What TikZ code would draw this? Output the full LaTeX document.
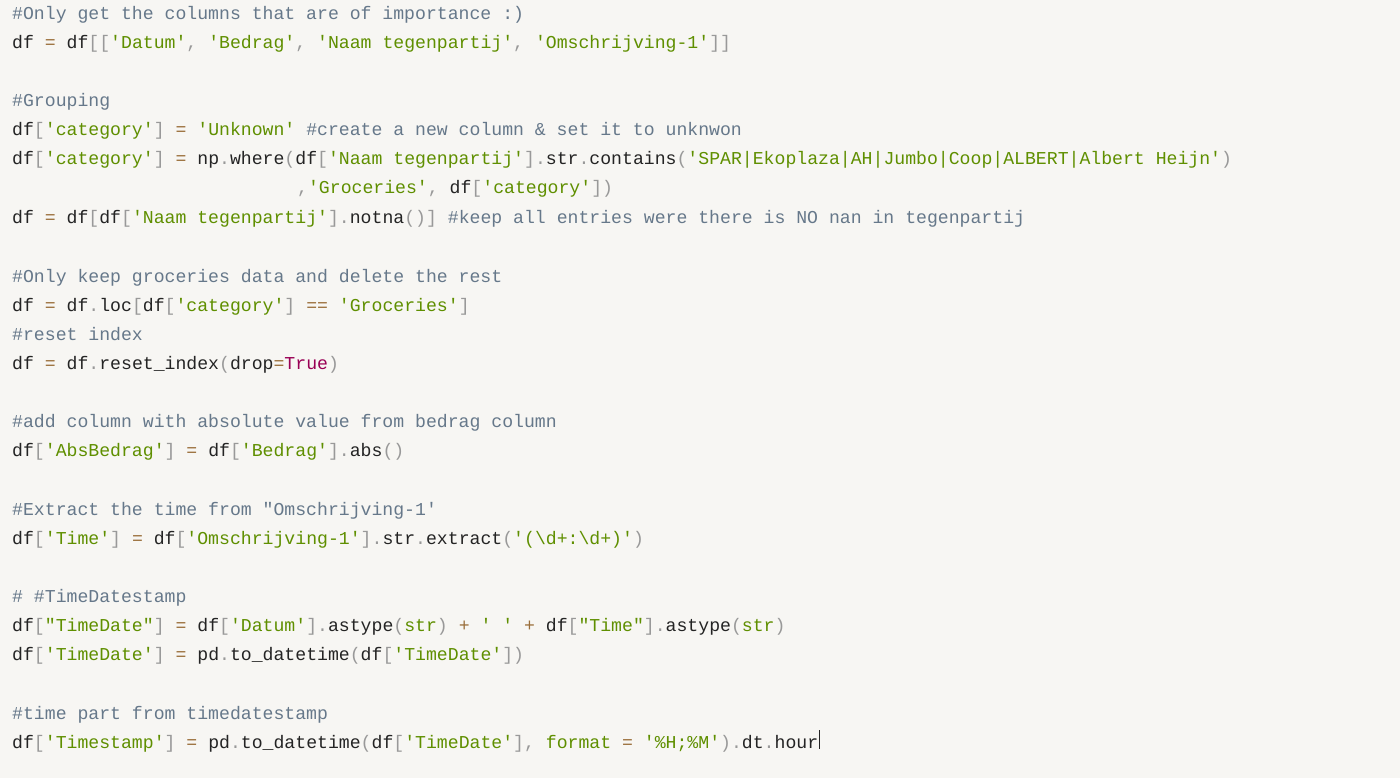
\documentclass[tikz,border=0pt]{standalone}
\usepackage{fontspec}
\setmonofont{Liberation Mono}
\definecolor{bgc}{HTML}{F7F6F3}
\definecolor{txc}{HTML}{242424}
\definecolor{puc}{HTML}{999999}
\definecolor{stc}{HTML}{5F8F00}
\definecolor{opc}{HTML}{9A6E3A}
\definecolor{cmc}{HTML}{66788A}
\definecolor{kwc}{HTML}{990055}
\newcommand\Xc[1]{\textcolor{cmc}{#1}}
\newcommand\Xs[1]{\textcolor{stc}{#1}}
\newcommand\Xo[1]{\textcolor{opc}{#1}}
\newcommand\Xp[1]{\textcolor{puc}{#1}}
\newcommand\Xk[1]{\textcolor{kwc}{#1}}
\tikzset{codeline/.style={anchor=base west,inner sep=0pt,text=txc,font=\ttfamily\fontsize{18.15}{29}\selectfont}}
\begin{document}
\begin{tikzpicture}[x=1pt,y=-1pt]
\fill[bgc] (0,0) rectangle (1400,778);
\useasboundingbox (0,0) rectangle (1400,778);
\node[codeline] (l1) at (12,20) {\Xc{\#Only get the columns that are of importance :)}};
\node[codeline] (l2) at (12,49) {df \Xo{=} df\Xp{[[}\Xs{'Datum'}\Xp{,} \Xs{'Bedrag'}\Xp{,} \Xs{'Naam tegenpartij'}\Xp{,} \Xs{'Omschrijving-1'}\Xp{]]}};
\node[codeline] (l4) at (12,107) {\Xc{\#Grouping}};
\node[codeline] (l5) at (12,136) {df\Xp{[}\Xs{'category'}\Xp{]} \Xo{=} \Xs{'Unknown'} \Xc{\#create a new column \& set it to unknwon}};
\node[codeline] (l6) at (12,165) {df\Xp{[}\Xs{'category'}\Xp{]} \Xo{=} np\Xp{.}where\Xp{(}df\Xp{[}\Xs{'Naam tegenpartij'}\Xp{].}str\Xp{.}contains\Xp{(}\Xs{'SPAR|Ekoplaza|AH|Jumbo|Coop|ALBERT|Albert Heijn'}\Xp{)}};
\node[codeline] (l7) at (297,194) {\Xp{,}\Xs{'Groceries'}\Xp{,} df\Xp{[}\Xs{'category'}\Xp{])}};
\node[codeline] (l8) at (12,223) {df \Xo{=} df\Xp{[}df\Xp{[}\Xs{'Naam tegenpartij'}\Xp{].}notna\Xp{()]} \Xc{\#keep all entries were there is NO nan in tegenpartij}};
\node[codeline] (l10) at (12,282) {\Xc{\#Only keep groceries data and delete the rest}};
\node[codeline] (l11) at (12,311) {df \Xo{=} df\Xp{.}loc\Xp{[}df\Xp{[}\Xs{'category'}\Xp{]} \Xo{==} \Xs{'Groceries'}\Xp{]}};
\node[codeline] (l12) at (12,340) {\Xc{\#reset index}};
\node[codeline] (l13) at (12,369) {df \Xo{=} df\Xp{.}reset\_index\Xp{(}drop\Xo{=}\Xk{True}\Xp{)}};
\node[codeline] (l15) at (12,427) {\Xc{\#add column with absolute value from bedrag column}};
\node[codeline] (l16) at (12,456) {df\Xp{[}\Xs{'AbsBedrag'}\Xp{]} \Xo{=} df\Xp{[}\Xs{'Bedrag'}\Xp{].}abs\Xp{()}};
\node[codeline] (l18) at (12,515) {\Xc{\#Extract the time from "Omschrijving-1'}};
\node[codeline] (l19) at (12,544) {df\Xp{[}\Xs{'Time'}\Xp{]} \Xo{=} df\Xp{[}\Xs{'Omschrijving-1'}\Xp{].}str\Xp{.}extract\Xp{(}\Xs{'(\textbackslash d+:\textbackslash d+)'}\Xp{)}};
\node[codeline] (l21) at (12,602) {\Xc{\# \#TimeDatestamp}};
\node[codeline] (l22) at (12,631) {df\Xp{[}\Xs{"TimeDate"}\Xp{]} \Xo{=} df\Xp{[}\Xs{'Datum'}\Xp{].}astype\Xp{(}\Xs{str}\Xp{)} \Xo{+} \Xs{' '} \Xo{+} df\Xp{[}\Xs{"Time"}\Xp{].}astype\Xp{(}\Xs{str}\Xp{)}};
\node[codeline] (l23) at (12,660) {df\Xp{[}\Xs{'TimeDate'}\Xp{]} \Xo{=} pd\Xp{.}to\_datetime\Xp{(}df\Xp{[}\Xs{'TimeDate'}\Xp{])}};
\node[codeline] (l25) at (12,719) {\Xc{\#time part from timedatestamp}};
\node[codeline] (l26) at (12,748) {df\Xp{[}\Xs{'Timestamp'}\Xp{]} \Xo{=} pd\Xp{.}to\_datetime\Xp{(}df\Xp{[}\Xs{'TimeDate'}\Xp{],} \Xs{format} \Xo{=} \Xs{'\%H;\%M'}\Xp{).}dt\Xp{.}hour};
\draw[txc,line width=1pt] (l26.east) ++(1,-13) coordinate (c1) -- ++(0,19);
\end{tikzpicture}
\end{document}
